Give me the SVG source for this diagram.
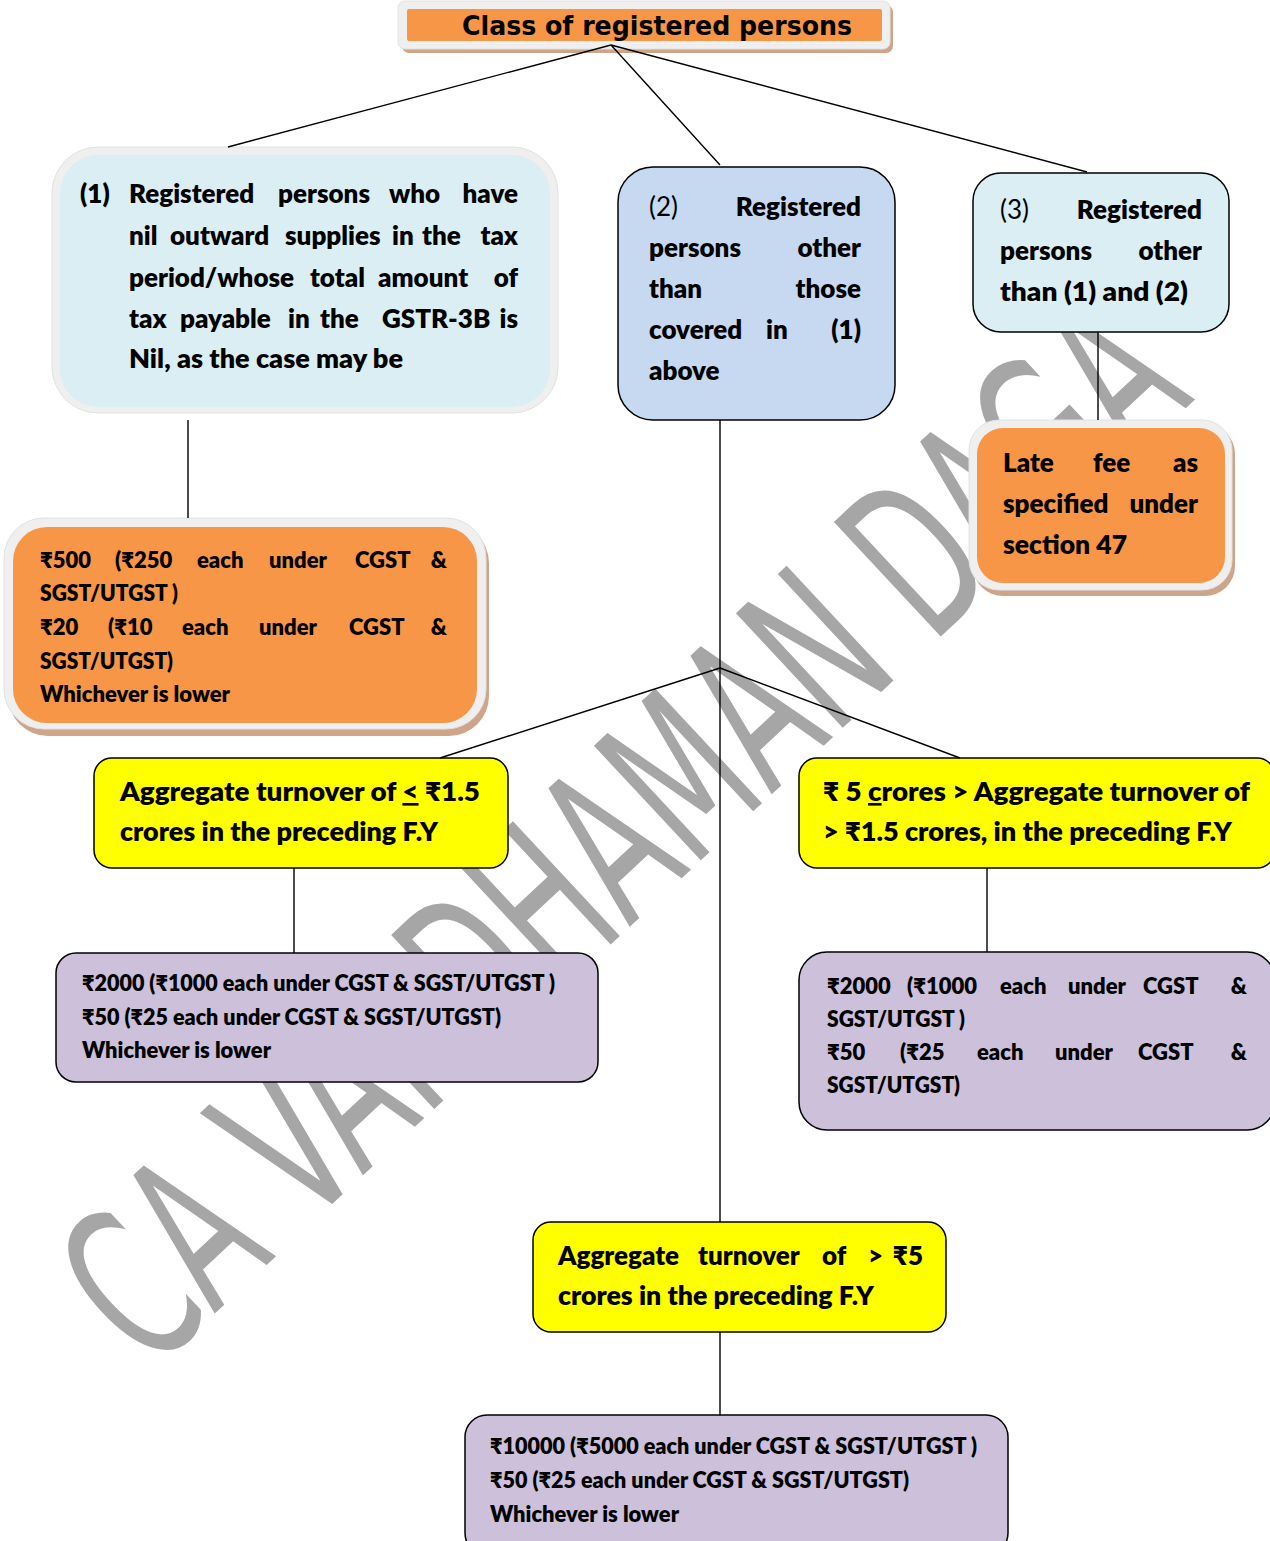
<svg xmlns="http://www.w3.org/2000/svg" width="1270" height="1541" viewBox="0 0 1270 1541">
  <style>
    .t { font-family: Lato, "Noto Sans", "DejaVu Sans", sans-serif; font-weight: 800; fill: #000; }
    .big { font-size: 26px; }
    .sm { font-size: 22px; }
    .reg { font-weight: normal; }
    .edge { stroke: #000; stroke-width: 1.5; }
    .link { stroke: #000; stroke-width: 1.4; fill: none; }
    .frame { fill: #efefef; stroke: #e2e2e2; stroke-width: 1; }
    .shade { fill: #cfa58a; }
    .orange { fill: #f79646; }
    .lblue { fill: #daeef3; }
    .mblue { fill: #c6d9f1; }
    .yellow { fill: #ffff00; }
    .purple { fill: #ccc0da; }
    .wm { font-family: "DejaVu Sans Condensed", "DejaVu Sans", sans-serif; font-size: 215px; fill: #a6a6a6; }
  </style>

  <rect width="1270" height="1541" fill="#ffffff"/>

  <!-- background watermark -->
  <g id="watermark">
    <text class="wm" x="0" y="0" text-anchor="middle" dominant-baseline="central" textLength="1430" lengthAdjust="spacingAndGlyphs" transform="translate(622,832) rotate(-43)">CA VARDHAMAN DAGA</text>
  </g>

  <!-- title -->
  <g id="title">
    <rect class="shade" x="402" y="5" width="491" height="48" rx="7"/>
    <rect class="frame" x="398" y="1" width="492" height="48" rx="7"/>
    <rect class="orange" x="407" y="9" width="475" height="32" rx="2"/>
    <text x="462" y="35" font-family="'Comic Sans MS', 'DejaVu Sans', sans-serif" font-weight="bold" font-size="26" textLength="390" lengthAdjust="spacingAndGlyphs">Class of registered persons</text>
  </g>

  <!-- class 1 -->
  <g id="class1">
    <rect class="frame" x="52" y="147" width="506" height="266" rx="46"/>
    <rect class="lblue" x="60" y="155" width="490" height="252" rx="38"/>
    <text class="t big" y="203"><tspan x="80">(1)</tspan><tspan x="129">Registered</tspan><tspan x="278">persons</tspan><tspan x="389">who</tspan><tspan x="518" text-anchor="end">have</tspan></text>
    <text class="t big" y="245"><tspan x="129">nil</tspan><tspan x="170">outward</tspan><tspan x="285">supplies</tspan><tspan x="392">in</tspan><tspan x="422">the</tspan><tspan x="518" text-anchor="end">tax</tspan></text>
    <text class="t big" y="287"><tspan x="129">period/whose</tspan><tspan x="310">total</tspan><tspan x="378">amount</tspan><tspan x="518" text-anchor="end">of</tspan></text>
    <text class="t big" y="328"><tspan x="129">tax</tspan><tspan x="180">payable</tspan><tspan x="288">in</tspan><tspan x="320">the</tspan><tspan x="382">GSTR-3B</tspan><tspan x="518" text-anchor="end">is</tspan></text>
    <text class="t big" x="129" y="368" textLength="274" lengthAdjust="spacingAndGlyphs">Nil, as the case may be</text>
  </g>

  <!-- class 2 -->
  <g id="class2">
    <rect class="mblue edge" x="618" y="167" width="277" height="253" rx="35"/>
    <text class="t big" y="216"><tspan x="649" class="reg">(2)</tspan><tspan x="861" text-anchor="end">Registered</tspan></text>
    <text class="t big" y="257"><tspan x="649">persons</tspan><tspan x="861" text-anchor="end">other</tspan></text>
    <text class="t big" y="298"><tspan x="649">than</tspan><tspan x="861" text-anchor="end">those</tspan></text>
    <text class="t big" y="339"><tspan x="649">covered</tspan><tspan x="766">in</tspan><tspan x="861" text-anchor="end">(1)</tspan></text>
    <text class="t big" x="649" y="380">above</text>
  </g>

  <!-- class 3 -->
  <g id="class3">
    <rect class="lblue edge" x="973" y="173" width="256" height="159" rx="28"/>
    <text class="t big" y="219"><tspan x="1000" class="reg">(3)</tspan><tspan x="1202" text-anchor="end">Registered</tspan></text>
    <text class="t big" y="260"><tspan x="1000">persons</tspan><tspan x="1202" text-anchor="end">other</tspan></text>
    <text class="t big" x="1000" y="301" textLength="188" lengthAdjust="spacingAndGlyphs">than (1) and (2)</text>
  </g>

  <!-- late fee for class 1 -->
  <g id="fee1">
    <rect class="shade" x="8" y="523" width="481" height="213" rx="40"/>
    <rect class="frame" x="4" y="518" width="482" height="211" rx="40"/>
    <rect class="orange" x="13" y="527" width="464" height="196" rx="34"/>
    <text class="t sm" y="568"><tspan x="40">₹500</tspan><tspan x="115">(₹250</tspan><tspan x="197">each</tspan><tspan x="269">under</tspan><tspan x="355">CGST</tspan><tspan x="447" text-anchor="end">&amp;</tspan></text>
    <text class="t sm" x="40" y="601" textLength="138" lengthAdjust="spacingAndGlyphs">SGST/UTGST )</text>
    <text class="t sm" y="635"><tspan x="40">₹20</tspan><tspan x="108">(₹10</tspan><tspan x="182">each</tspan><tspan x="259">under</tspan><tspan x="349">CGST</tspan><tspan x="447" text-anchor="end">&amp;</tspan></text>
    <text class="t sm" x="40" y="669" textLength="133" lengthAdjust="spacingAndGlyphs">SGST/UTGST)</text>
    <text class="t sm" x="40" y="702" textLength="190" lengthAdjust="spacingAndGlyphs">Whichever is lower</text>
  </g>

  <!-- late fee for class 3 -->
  <g id="fee3">
    <rect class="shade" x="973" y="424" width="262" height="172" rx="30"/>
    <rect class="frame" x="969" y="420" width="263" height="170" rx="30"/>
    <rect class="orange" x="977" y="428" width="248" height="155" rx="26"/>
    <text class="t big" y="472"><tspan x="1003">Late</tspan><tspan x="1093">fee</tspan><tspan x="1198" text-anchor="end">as</tspan></text>
    <text class="t big" y="513"><tspan x="1003">specified</tspan><tspan x="1198" text-anchor="end">under</tspan></text>
    <text class="t big" x="1003" y="554" textLength="124" lengthAdjust="spacingAndGlyphs">section 47</text>
  </g>

  <!-- turnover up to 1.5 crores -->
  <g id="turnover-low">
    <rect class="yellow edge" x="94" y="758" width="414" height="110" rx="18"/>
    <text class="t big" x="120" y="801" textLength="360" lengthAdjust="spacingAndGlyphs">Aggregate turnover of <tspan text-decoration="underline">&lt;</tspan> ₹1.5</text>
    <text class="t big" x="120" y="841" textLength="318" lengthAdjust="spacingAndGlyphs">crores in the preceding F.Y</text>
  </g>

  <!-- turnover between 1.5 and 5 crores -->
  <g id="turnover-mid">
    <rect class="yellow edge" x="799" y="758" width="476" height="110" rx="18"/>
    <text class="t big" x="823" y="801" textLength="427" lengthAdjust="spacingAndGlyphs">₹ 5 <tspan text-decoration="underline">c</tspan>rores &gt; Aggregate turnover of</text>
    <text class="t big" x="823" y="841" textLength="409" lengthAdjust="spacingAndGlyphs">&gt; ₹1.5 crores, in the preceding F.Y</text>
  </g>

  <!-- turnover above 5 crores -->
  <g id="turnover-high">
    <rect class="yellow edge" x="533" y="1222" width="413" height="110" rx="18"/>
    <text class="t big" y="1265"><tspan x="558">Aggregate</tspan><tspan x="698">turnover</tspan><tspan x="822">of</tspan><tspan x="868">&gt;</tspan><tspan x="923" text-anchor="end">₹5</tspan></text>
    <text class="t big" x="558" y="1305" textLength="316" lengthAdjust="spacingAndGlyphs">crores in the preceding F.Y</text>
  </g>

  <!-- fee for low turnover -->
  <g id="fee-low">
    <rect class="purple edge" x="56" y="953" width="542" height="129" rx="20"/>
    <text class="t sm" x="82" y="991" textLength="473" lengthAdjust="spacingAndGlyphs">₹2000 (₹1000 each under CGST &amp; SGST/UTGST )</text>
    <text class="t sm" x="82" y="1025" textLength="419" lengthAdjust="spacingAndGlyphs">₹50 (₹25 each under CGST &amp; SGST/UTGST)</text>
    <text class="t sm" x="82" y="1058" textLength="189" lengthAdjust="spacingAndGlyphs">Whichever is lower</text>
  </g>

  <!-- fee for mid turnover -->
  <g id="fee-mid">
    <rect class="purple edge" x="799" y="952" width="476" height="178" rx="28"/>
    <text class="t sm" y="994"><tspan x="827">₹2000</tspan><tspan x="907">(₹1000</tspan><tspan x="1000">each</tspan><tspan x="1068">under</tspan><tspan x="1143">CGST</tspan><tspan x="1247" text-anchor="end">&amp;</tspan></text>
    <text class="t sm" x="827" y="1027" textLength="138" lengthAdjust="spacingAndGlyphs">SGST/UTGST )</text>
    <text class="t sm" y="1060"><tspan x="827">₹50</tspan><tspan x="900">(₹25</tspan><tspan x="977">each</tspan><tspan x="1055">under</tspan><tspan x="1138">CGST</tspan><tspan x="1247" text-anchor="end">&amp;</tspan></text>
    <text class="t sm" x="827" y="1093" textLength="133" lengthAdjust="spacingAndGlyphs">SGST/UTGST)</text>
  </g>

  <!-- fee for high turnover -->
  <g id="fee-high">
    <rect class="purple edge" x="465" y="1415" width="543" height="140" rx="22"/>
    <text class="t sm" x="490" y="1454" textLength="487" lengthAdjust="spacingAndGlyphs">₹10000 (₹5000 each under CGST &amp; SGST/UTGST )</text>
    <text class="t sm" x="490" y="1488" textLength="419" lengthAdjust="spacingAndGlyphs">₹50 (₹25 each under CGST &amp; SGST/UTGST)</text>
    <text class="t sm" x="490" y="1522" textLength="189" lengthAdjust="spacingAndGlyphs">Whichever is lower</text>
  </g>

  <!-- connectors, drawn last so the title fork shows over its frame -->
  <g id="connectors">
    <path class="link" d="M611,45 L228,147 M611,45 L720,165 M611,45 L1087,172"/>
    <path class="link" d="M188,420 L188,518"/>
    <path class="link" d="M1098,332 L1098,420"/>
    <path class="link" d="M720,420 L720,1222"/>
    <path class="link" d="M720,668 L440,758 M720,668 L960,758"/>
    <path class="link" d="M294,868 L294,953"/>
    <path class="link" d="M987,868 L987,952"/>
    <path class="link" d="M720,1332 L720,1415"/>
  </g>
</svg>
